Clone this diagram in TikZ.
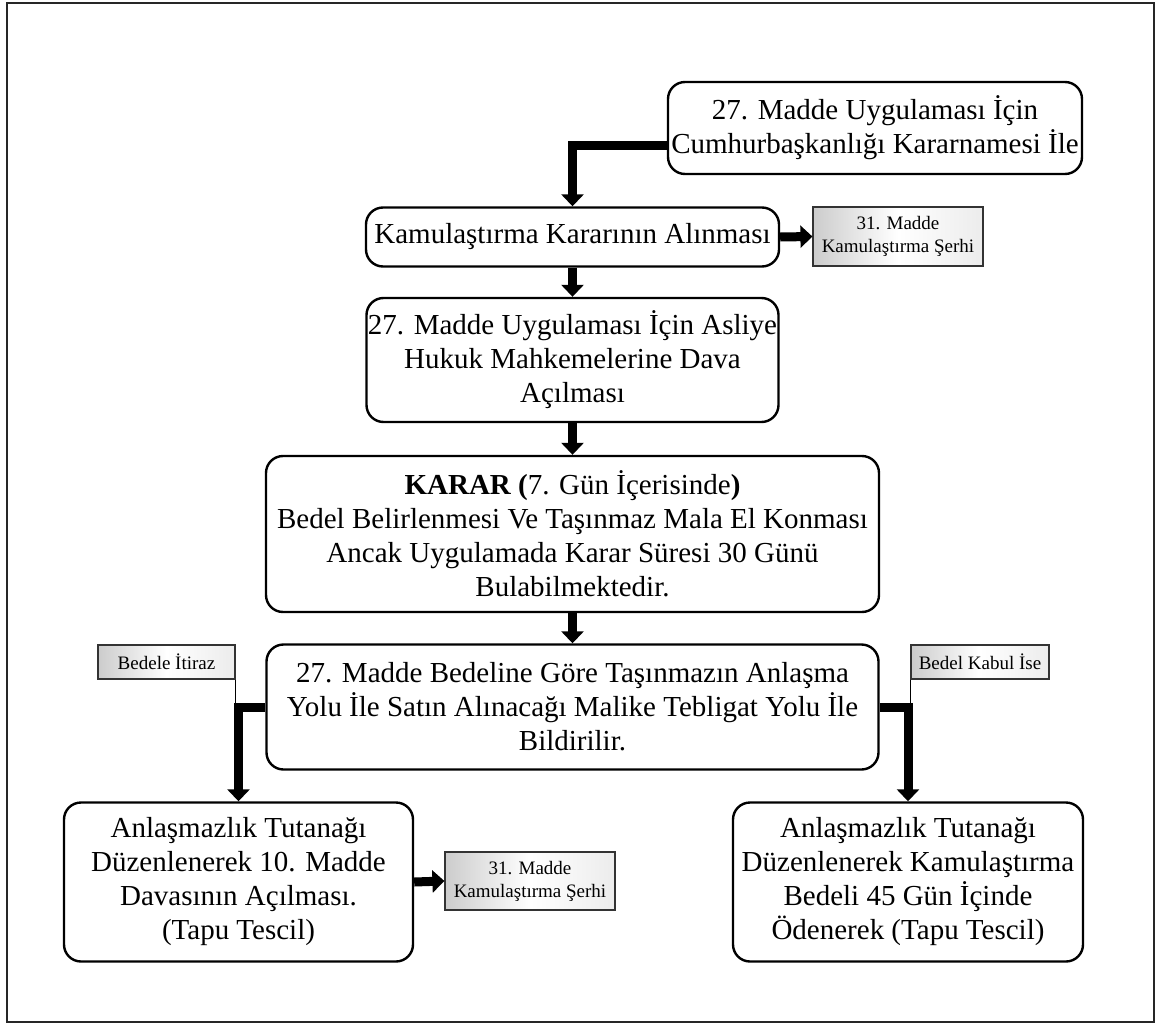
\documentclass[tikz,border=0pt]{standalone}
\usepackage{fontspec}
\setmainfont{Liberation Serif}
\usetikzlibrary{arrows.meta}

\begin{document}
\begin{tikzpicture}[x=1pt,y=-1pt,
  box/.style={draw,line width=2.4pt,rounded corners=17pt,align=center,inner sep=0pt,
    font=\fontsize{29}{34}\selectfont},
  note/.style={draw=black!80,line width=1.2pt,left color=gray!40,right color=gray!15,
    middle color=white,align=center,inner sep=0pt,font=\fontsize{19}{23}\selectfont},
  flow/.style={line width=9pt,-{Triangle[width=22pt,length=12pt]}},
  tie/.style={line width=1pt}]
  \useasboundingbox (0,0) rectangle (1157,1025);
  \draw[line width=2.6pt,black!85] (7,3) rectangle (1154,1022);

  % main chain
  \node[box,minimum width=414pt,minimum height=92pt] (karname) at (875,128)
    {27. Madde Uygulaması İçin\\Cumhurbaşkanlığı Kararnamesi İle};
  \node[box,minimum width=413pt,minimum height=59pt] (karar0) at (572.5,237)
    {Kamulaştırma Kararının Alınması};
  \node[box,minimum width=412pt,minimum height=124pt] (dava) at (572.5,360)
    {27. Madde Uygulaması İçin Asliye\\Hukuk Mahkemelerine Dava\\Açılması};
  \node[box,minimum width=613pt,minimum height=156pt] (karar) at (572.5,534)
    {\textbf{KARAR (}7. Gün İçerisinde\textbf{)}\\Bedel Belirlenmesi Ve Taşınmaz Mala El Konması\\
     Ancak Uygulamada Karar Süresi 30 Günü\\Bulabilmektedir.};
  \node[box,minimum width=612pt,minimum height=125pt] (teblig) at (572.5,707)
    {27. Madde Bedeline Göre Taşınmazın Anlaşma\\Yolu İle Satın Alınacağı Malike Tebligat Yolu İle\\Bildirilir.};
  \node[box,minimum width=349pt,minimum height=159pt] (itiraz) at (238.5,882)
    {Anlaşmazlık Tutanağı\\Düzenlenerek 10. Madde\\Davasının Açılması.\\(Tapu Tescil)};
  \node[box,minimum width=350pt,minimum height=159pt] (kabul) at (908,882)
    {Anlaşmazlık Tutanağı\\Düzenlenerek Kamulaştırma\\Bedeli 45 Gün İçinde\\Ödenerek (Tapu Tescil)};

  % side notes
  \node[note,minimum width=170pt,minimum height=59pt] (serh1) at (898,236.5)
    {31. Madde\\Kamulaştırma Şerhi};
  \node[note,minimum width=170pt,minimum height=58pt] (serh2) at (530,881)
    {31. Madde\\Kamulaştırma Şerhi};
  \node[note,minimum width=137pt,minimum height=34pt] (lbitiraz) at (166.5,662)
    {Bedele İtiraz};
  \node[note,minimum width=138pt,minimum height=34pt] (lbkabul) at (980,662)
    {Bedel Kabul İse};

  \draw[flow] ([yshift=-17pt]karname.west) -| (karar0.north);
  \draw[flow] (karar0.east) -- (serh1.west);
  \draw[flow] (karar0.south) -- (dava.north);
  \draw[flow] (dava.south) -- (karar.north);
  \draw[flow] (karar.south) -- (teblig.north);
  \draw[flow] (teblig.west) -| (itiraz.north);
  \draw[flow] (teblig.east) -| (kabul.north);
  \draw[flow] (itiraz.east) -- (serh2.west);
  \draw[tie] (lbitiraz.south east) -- (lbitiraz.south east |- teblig.west);
  \draw[tie] (lbkabul.south west) -- (lbkabul.south west |- teblig.east);
\end{tikzpicture}
\end{document}
